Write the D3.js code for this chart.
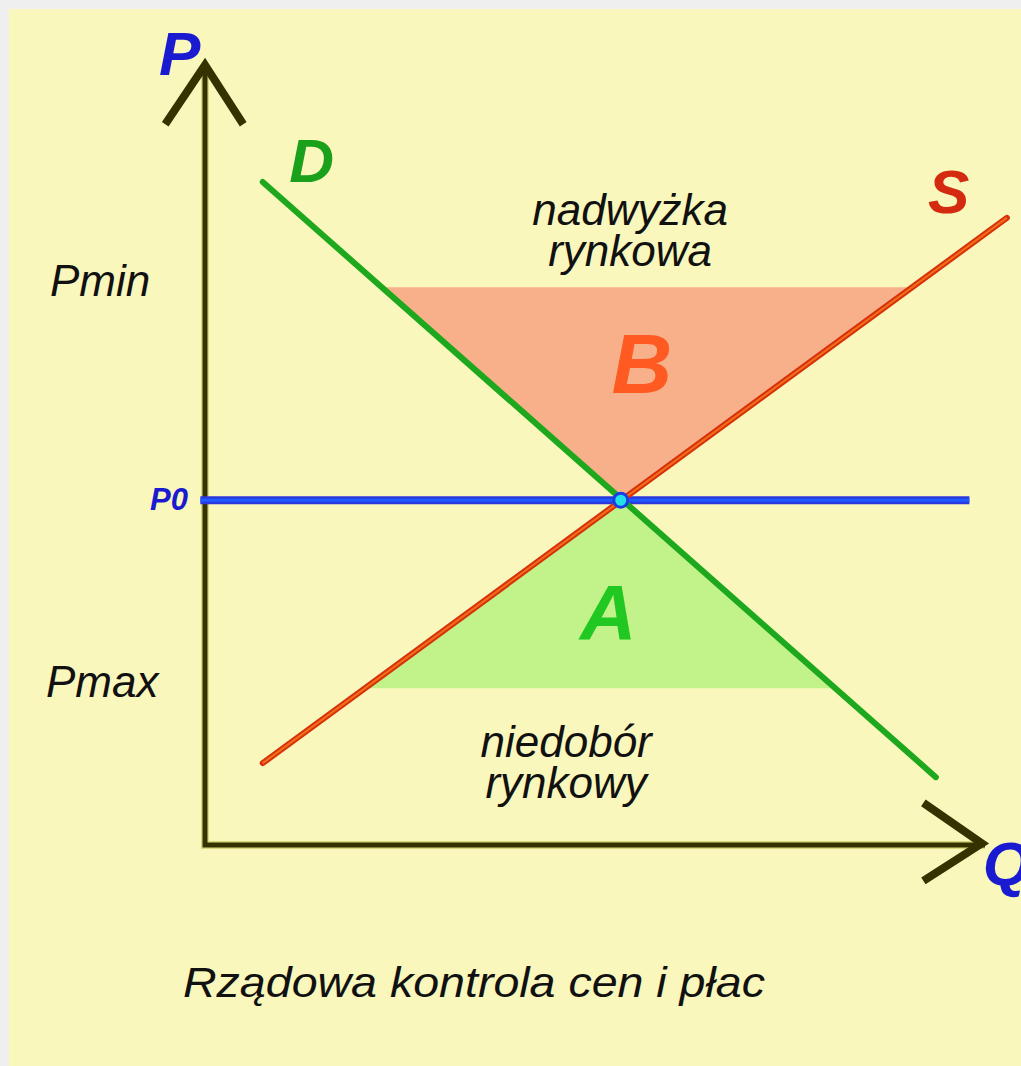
<!DOCTYPE html>
<html>
<head>
<meta charset="utf-8">
<script src="https://cdn.jsdelivr.net/npm/d3@7"></script>
<style>
  html, body { margin: 0; padding: 0; background: #efefef; }
  svg { display: block; }
  text { font-family: "Liberation Sans", Arial, sans-serif; font-style: italic; }
</style>
</head>
<body>
<svg id="chart"></svg>
<script>
// price / quantity values in chart units (0..100 on both axes)
var demand = [[7.4, 85.0], [93.7, 8.7]];
var supply = [[7.4, 10.5], [102.8, 80.4]];
var priceLevels = ["Pmin", "P0", "Pmax"];
var priceValues = [71.5, 44.2, 20.1];
var p0Span = [-0.6, 98.0];
var equilibrium = [53.3, 44.2];
var areaLabels = ["B", "A"];
var areaNotes = [["nadwyżka", "rynkowa"], ["niedobór", "rynkowy"]];
var caption = "Rządowa kontrola cen i płac";

var width = 1021, height = 1066;

var svg = d3.select("#chart")
  .attr("width", width)
  .attr("height", height);

var x = d3.scaleLinear().domain([0, 100]).range([205, 985]);
var y = d3.scaleLinear().domain([0, 100]).range([845, 65]);

var line = d3.line()
  .x(function (d) { return x(d[0]); })
  .y(function (d) { return y(d[1]); });

// quantity where a straight curve reaches price p
function qAt(seg, p) {
  var t = (p - seg[0][1]) / (seg[1][1] - seg[0][1]);
  return seg[0][0] + t * (seg[1][0] - seg[0][0]);
}

var pMin = priceValues[0], p0 = priceValues[1], pMax = priceValues[2];

// yellow panel
svg.append("rect")
  .attr("x", 9).attr("y", 9)
  .attr("width", width - 9).attr("height", height - 9)
  .style("fill", "#f9f7bb");

// surplus (B) and shortage (A) areas
var surplus = [[qAt(demand, pMin), pMin], [qAt(supply, pMin), pMin], equilibrium];
var shortage = [[qAt(supply, pMax), pMax], [qAt(demand, pMax), pMax], equilibrium];

svg.append("path")
  .attr("d", line(surplus) + "Z")
  .style("fill", "#f8b08a");

svg.append("path")
  .attr("d", line(shortage) + "Z")
  .style("fill", "#c2f28a");

// axes
var axisColor = "#343300";
var axes = svg.append("g").attr("class", "axes");

axes.append("path")
  .attr("d", line([[0, 100], [0, 0], [100, 0]]))
  .style("fill", "none")
  .style("stroke", "#bdbb40")
  .style("stroke-width", 8)
  .style("opacity", 0.5);

axes.append("path")
  .attr("d", line([[0, 100], [0, 0], [100, 0]]))
  .style("fill", "none")
  .style("stroke", axisColor)
  .style("stroke-width", 5);

axes.append("path")
  .attr("d", line([[-5.1, 92.4], [0, 100], [4.9, 92.4]]))
  .style("fill", "none")
  .style("stroke", axisColor)
  .style("stroke-width", 8)
  .style("stroke-linejoin", "miter");

axes.append("path")
  .attr("d", line([[92.1, 5.4], [99.6, 0.2], [92.1, -4.6]]))
  .style("fill", "none")
  .style("stroke", axisColor)
  .style("stroke-width", 8)
  .style("stroke-linejoin", "miter");

// P0 line
svg.append("path")
  .attr("d", line([[p0Span[0], p0], [p0Span[1], p0]]))
  .style("stroke", "#2b38e0")
  .style("stroke-width", 8);

svg.append("path")
  .attr("d", line([[p0Span[0], p0], [p0Span[1], p0]]))
  .style("stroke", "#1f5cff")
  .style("stroke-width", 3);

// demand curve
svg.append("path")
  .attr("d", line(demand))
  .style("stroke", "#1ea81e")
  .style("stroke-width", 6)
  .style("stroke-linecap", "round");

// supply curve
svg.append("path")
  .attr("d", line(supply))
  .style("stroke", "#d8300c")
  .style("stroke-width", 6)
  .style("stroke-linecap", "round");

svg.append("path")
  .attr("d", line(supply))
  .style("stroke", "#f07018")
  .style("stroke-width", 2);

// equilibrium point
svg.append("circle")
  .attr("cx", x(equilibrium[0]))
  .attr("cy", y(equilibrium[1]))
  .attr("r", 7)
  .style("fill", "#22e0e8")
  .style("stroke", "#1a3ce8")
  .style("stroke-width", 3);

// axis names and curve names
function bigLabel(txt, px, py, color, size, anchor) {
  svg.append("text")
    .attr("x", px).attr("y", py)
    .attr("text-anchor", anchor || "start")
    .style("font-weight", "bold")
    .style("font-size", size + "px")
    .style("fill", color)
    .text(txt);
}

bigLabel("P", x(-5.9), y(98.7), "#1a1ad0", 62);
bigLabel("Q", x(99.7), y(-5.1), "#1a1ad0", 62);
bigLabel("D", x(10.8), y(85.0), "#1aa01a", 62);
bigLabel("S", x(92.7), y(81.0), "#d42a10", 62);
bigLabel(areaLabels[0], x(56.0), y(57.9), "#ff5a22", 84, "middle");
bigLabel(areaLabels[1], x(51.7), y(26.3), "#22c822", 78, "middle");

// price level labels
svg.append("text")
  .attr("x", 50).attr("y", y(pMin) + 9)
  .style("font-size", "44px")
  .style("fill", "#111")
  .text(priceLevels[0]);

svg.append("text")
  .attr("x", 46).attr("y", y(pMax) + 9)
  .style("font-size", "44px")
  .style("fill", "#111")
  .text(priceLevels[2]);

svg.append("text")
  .attr("x", 150).attr("y", y(p0) + 10)
  .style("font-size", "31px")
  .style("font-weight", "bold")
  .style("fill", "#1a1ad0")
  .text(priceLevels[1]);

// notes over the areas, one text per line
var notePos = [[x(54.5), 225], [x(46.3), 757]];
areaNotes.forEach(function (lines, i) {
  lines.forEach(function (d, j) {
    svg.append("text")
      .attr("x", notePos[i][0])
      .attr("y", notePos[i][1] + j * 41)
      .attr("text-anchor", "middle")
      .style("font-size", "44px")
      .style("fill", "#111")
      .text(d);
  });
});

// caption
svg.append("text")
  .attr("x", 183).attr("y", 997)
  .attr("textLength", 582)
  .attr("lengthAdjust", "spacingAndGlyphs")
  .style("font-size", "42px")
  .style("fill", "#111")
  .text(caption);
</script>
</body>
</html>
